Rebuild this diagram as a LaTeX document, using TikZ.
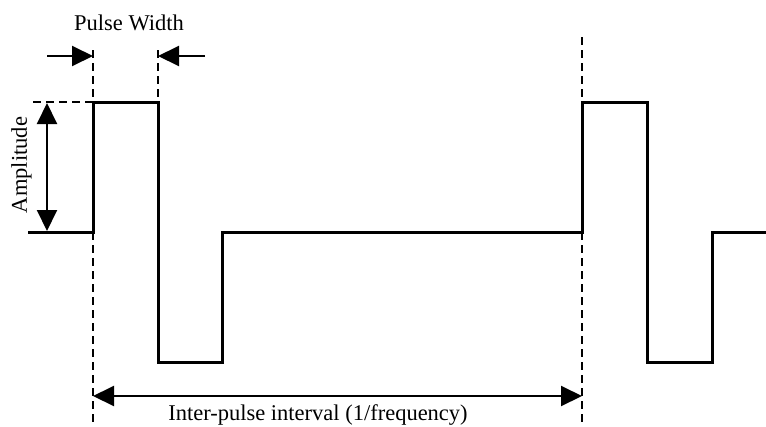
\documentclass[tikz,border=0pt]{standalone}
\usepackage{fontspec}
\setmainfont{Liberation Serif}
\usetikzlibrary{arrows.meta}
\begin{document}
\begin{tikzpicture}[x=1pt,y=-1pt,
  wave/.style={line width=3pt,line join=miter},
  guide/.style={line width=1.6pt,dash pattern=on 8pt off 5pt},
  dimarrow/.style={line width=2pt,-{Triangle[length=21pt,width=20pt]}},
  dimboth/.style={line width=2pt,{Triangle[length=21pt,width=20pt]}-{Triangle[length=21pt,width=20pt]}},
  lbl/.style={font=\fontsize{22.5}{27}\selectfont,inner sep=0pt,anchor=base}]
\useasboundingbox (0,0) rectangle (766,426);
% waveform corners
\coordinate (w0) at (28,232);
\coordinate (w1) at (93,232);
\coordinate (w2) at (93,102);
\coordinate (w3) at (158,102);
\coordinate (w4) at (158,362);
\coordinate (w5) at (222,362);
\coordinate (w6) at (222,232);
\coordinate (w7) at (582,232);
\coordinate (w8) at (582,102);
\coordinate (w9) at (647,102);
\coordinate (w10) at (647,362);
\coordinate (w11) at (712,362);
\coordinate (w12) at (712,232);
\coordinate (w13) at (766,232);
% guides
\coordinate (g1t) at (93,50);
\coordinate (g1b) at (93,426);
\coordinate (g2t) at (158,50);
\coordinate (g3t) at (582,37);
\coordinate (g3b) at (582,426);
\coordinate (hl) at (33,102);
\draw[guide] (g1t) -- (w2);
\draw[guide] (w1) -- (g1b);
\draw[guide] (g2t) -- (w3);
\draw[guide] (g3t) -- (w8);
\draw[guide] (w7) -- (g3b);
\draw[guide] (hl) -- (w2);
\draw[wave] (w0) -- (w1) -- (w2) -- (w3) -- (w4) -- (w5) -- (w6) -- (w7) -- (w8) -- (w9) -- (w10) -- (w11) -- (w12) -- (w13);
% amplitude
\coordinate (at) at (47,103);
\coordinate (ab) at (47,231);
\draw[dimboth] (ab) -- (at);
\node[lbl,rotate=90] (amp) at (27,165) {Amplitude};
% pulse width
\coordinate (pl0) at (47,56);
\coordinate (pl1) at (93,56);
\coordinate (pr0) at (205,56);
\coordinate (pr1) at (158,56);
\draw[dimarrow] (pl0) -- (pl1);
\draw[dimarrow] (pr0) -- (pr1);
\node[lbl] (pw) at (129,30) {Pulse Width};
% inter-pulse
\coordinate (il) at (93,396);
\coordinate (ir) at (582,396);
\draw[dimboth] (il) -- (ir);
\node[lbl] (ipi) at (318,420) {Inter-pulse interval (1/frequency)};
\end{tikzpicture}
\end{document}
